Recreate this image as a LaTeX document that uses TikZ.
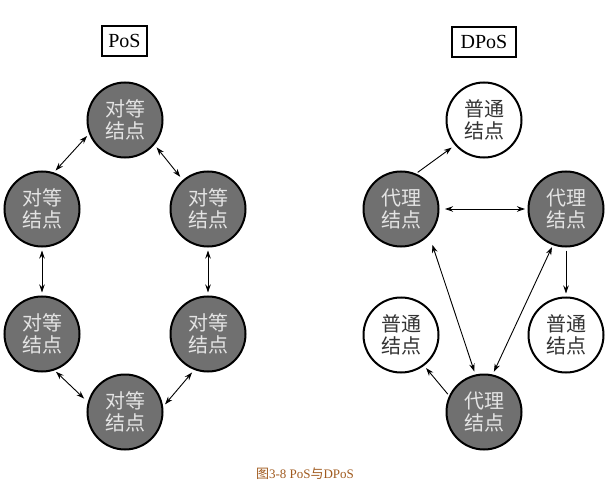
\documentclass[tikz,border=0pt]{standalone}
\usepackage{fontspec}
\setmainfont{Liberation Serif}
\newfontfamily\cjk{Noto Sans CJK SC}
\usetikzlibrary{arrows.meta}
\definecolor{nodegray}{RGB}{112,112,112}
\definecolor{nodetext}{RGB}{228,228,228}
\definecolor{captioncol}{RGB}{160,90,30}
\tikzset{
  peer/.style={circle,draw=black,line width=2pt,fill=nodegray,minimum size=75pt,inner sep=0pt,
    text=nodetext,font=\cjk\fontsize{20}{22}\selectfont,align=center},
  plain/.style={peer,fill=white,text=black!80},
  titlebox/.style={draw=black,line width=1.4pt,minimum height=30pt,inner sep=0pt,font=\fontsize{20}{22}\selectfont},
  link/.style={line width=0.9pt,{Stealth[length=8pt,width=5.5pt]}-{Stealth[length=8pt,width=5.5pt]}},
  onelink/.style={line width=0.9pt,-{Stealth[length=8pt,width=5.5pt]}}
}
\begin{document}
\begin{tikzpicture}[x=1pt,y=-1pt]
\useasboundingbox (0,0) rectangle (616,492);
% PoS
\node[titlebox,minimum width=45pt] (posT) at (124.5,41) {PoS};
\node[peer] (pt) at (125,120) {对等\\结点};
\node[peer] (pl) at (42,209) {对等\\结点};
\node[peer] (pr) at (208,209) {对等\\结点};
\node[peer] (pll) at (42,334) {对等\\结点};
\node[peer] (prl) at (208,334) {对等\\结点};
\node[peer] (pb) at (125,412) {对等\\结点};
\draw[link,shorten <=3pt,shorten >=2.5pt] (pt.-159) -- (pl.72);
\draw[link,shorten <=3.4pt,shorten >=4pt] (pt.-40) -- (pr.131);
\draw[link,shorten <=3pt,shorten >=3pt] (pl.-90) -- (pll.90);
\draw[link,shorten <=3pt,shorten >=3pt] (pr.-90) -- (prl.90);
\draw[link,shorten <=2pt,shorten >=5pt] (pll.-71) -- (pb.165);
\draw[link,shorten <=3.3pt,shorten >=3pt] (prl.-111) -- (pb.8);
% DPoS
\node[titlebox,minimum width=64pt] (dposT) at (484,42) {DPoS};
\node[plain] (nt) at (484,120) {普通\\结点};
\node[peer] (dl) at (401,209) {代理\\结点};
\node[peer] (dr) at (566,209) {代理\\结点};
\node[plain] (nl) at (401,335) {普通\\结点};
\node[plain] (nr) at (566,335) {普通\\结点};
\node[peer] (db) at (484,412) {代理\\结点};
\draw[onelink,shorten <=2pt,shorten >=4pt] (dl.67) -- (nt.-139);
\draw[link,shorten <=5.5pt,shorten >=2.5pt] (dl.0) -- (dr.180);
\draw[link,shorten <=10pt,shorten >=3pt] (dl.-43) -- (db.103);
\draw[link,shorten <=2pt,shorten >=3pt] (dr.-110) -- (db.77);
\draw[onelink,shorten <=3pt,shorten >=3pt] (dr.-90) -- (nr.90);
\draw[onelink,shorten <=2pt,shorten >=3pt] (db.155) -- (nl.-53);
% caption
\node[text=captioncol,font=\fontsize{13}{15}\selectfont,inner sep=0pt] (cap) at (305,474) {{\cjk 图}3-8 PoS{\cjk 与}DPoS};
\end{tikzpicture}
\end{document}
